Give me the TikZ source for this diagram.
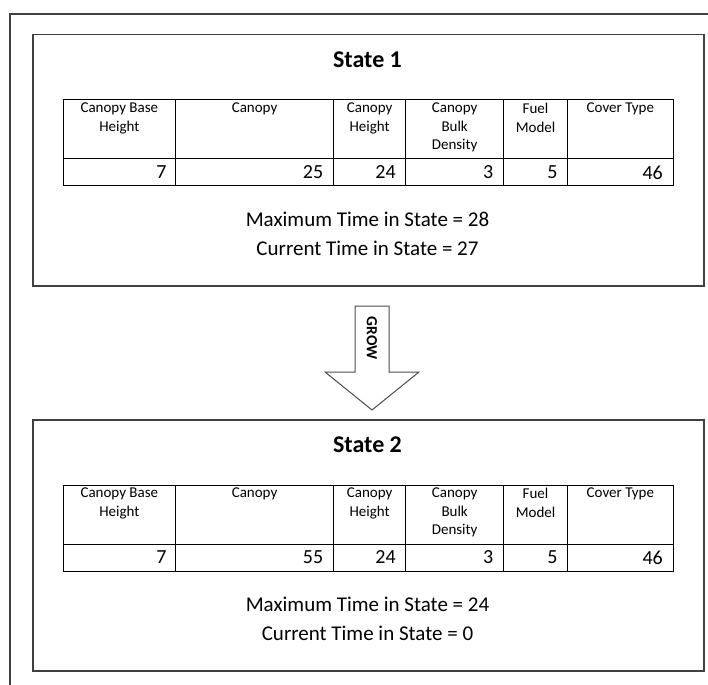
\documentclass[tikz,border=0pt]{standalone}
\usepackage{fontspec}
\setmainfont{Carlito}
\begin{document}
\begin{tikzpicture}[x=1pt,y=-1pt,
  frame/.style={draw=black!75, line width=1.5pt},
  grid/.style={draw=black, line width=1pt},
  titletext/.style={font=\fontsize{24}{28}\selectfont\bfseries, inner sep=0pt},
  bodytext/.style={font=\fontsize{21}{24}\selectfont, inner sep=0pt},
  headtext/.style={font=\fontsize{15}{18.5}\selectfont, align=center, anchor=north, inner sep=0pt},
  valtext/.style={font=\fontsize{20}{24}\selectfont, anchor=east, inner sep=0pt},
  arrowshape/.style={draw=black!70, line width=1pt, fill=white},
  arrowtext/.style={font=\fontsize{15.5}{18}\selectfont\bfseries, rotate=-90, inner sep=0pt}]
\useasboundingbox (0,0) rectangle (708,684);

% outer page frame (runs off to the right and bottom)
\coordinate (frameBL) at (10,700);
\coordinate (frameTL) at (10,14);
\coordinate (frameTR) at (720,14);
\draw[frame] (frameBL) -- (frameTL) -- (frameTR);

% one state panel: #1 vertical offset, #2 name prefix, #3 title,
% #4 canopy value, #5 maximum time, #6 current time
\newcommand\statepanel[6]{%
\begin{scope}[shift={(0,#1)}]
  \node[frame, inner sep=0pt, minimum width=671pt, minimum height=251pt,
        anchor=north west] (#2box) at (32,34) {};
  \node[titletext] (#2title) at (367.5,60) {#3};
  % table grid
  \draw[grid] (63,100) rectangle (673,186);
  \draw[grid] (63,159) -- (673,159);
  \foreach \cx in {175.7,333.4,405.9,503.4,567.7}
    \draw[grid] (\cx,100) -- (\cx,186);
  % header row
  \node[headtext] (#2h1) at (119.35,103) {Canopy Base\\Height};
  \node[headtext] (#2h2) at (254.55,103) {Canopy};
  \node[headtext] (#2h3) at (369.65,103) {Canopy\\Height};
  \node[headtext] (#2h4) at (454.65,103) {Canopy\\Bulk\\Density};
  \node[headtext] (#2h5) at (535.55,103) {Fuel\\Model};
  \node[headtext] (#2h6) at (620.35,103) {Cover Type};
  % value row
  \node[valtext] (#2v1) at (166.7,172.5) {7};
  \node[valtext] (#2v2) at (323.4,172.5) {#4};
  \node[valtext] (#2v3) at (395.9,172.5) {24};
  \node[valtext] (#2v4) at (493.4,172.5) {3};
  \node[valtext] (#2v5) at (557.7,172.5) {5};
  \node[valtext] (#2v6) at (663,172.5) {46};
  % timing lines
  \node[bodytext] (#2max) at (367.5,219) {Maximum Time in State = #5};
  \node[bodytext] (#2cur) at (367.5,248) {Current Time in State = #6};
\end{scope}}

\statepanel{0}{one}{State 1}{25}{28}{27}
\statepanel{385}{two}{State 2}{55}{24}{0}

% block arrow between the two states
\coordinate (shaftTL) at (355,306);
\coordinate (shaftTR) at (389,306);
\coordinate (headR) at (419,372);
\coordinate (tip) at (372,410);
\coordinate (headL) at (325,372);
\draw[arrowshape] (shaftTL) -- (shaftTR) -- (389,372) -- (headR) -- (tip)
  -- (headL) -- (355,372) -- cycle;
\node[arrowtext] (grow) at (372,338) {GROW};
\end{tikzpicture}
\end{document}
